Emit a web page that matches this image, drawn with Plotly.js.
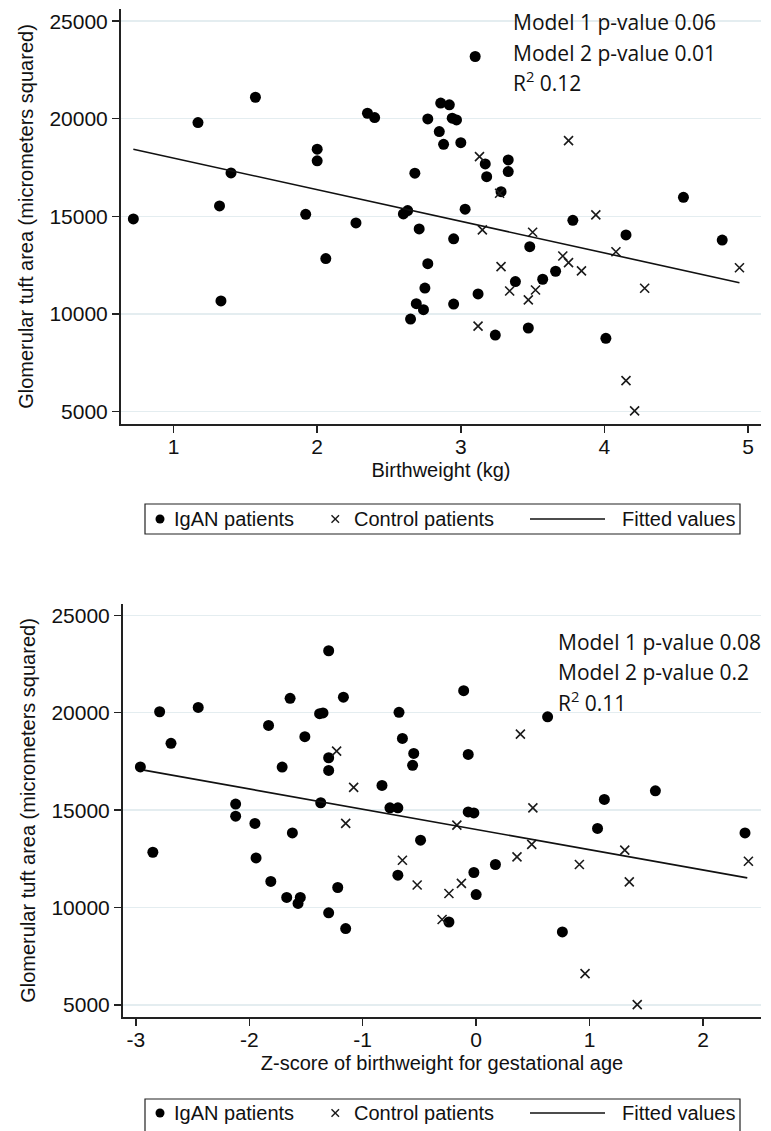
<!DOCTYPE html>
<html>
<head>
<meta charset="utf-8">
<script src="https://cdn.plot.ly/plotly-3.0.1.min.js"></script>
<style>
  html, body { margin: 0; padding: 0; background: #ffffff; }
  #top { width: 771px; height: 565px; }
  #bottom { width: 771px; height: 566px; }
</style>
</head>
<body>
<div id="top"></div>
<div id="bottom"></div>
<script>
// ---------------- DATA ----------------
// Panel A: Birthweight (kg) vs glomerular tuft area
const bwIganX = [0.72, 1.17, 1.33, 1.32, 1.40, 1.57, 1.92, 2.00, 2.00, 2.06, 2.27, 2.35, 2.40, 2.60, 2.63, 2.65, 2.68, 2.69, 2.71, 2.74, 2.75, 2.77, 2.77, 2.85, 2.86, 2.88, 2.92, 2.94, 2.95, 2.95, 2.97, 3.00, 3.03, 3.10, 3.12, 3.17, 3.18, 3.24, 3.28, 3.33, 3.33, 3.38, 3.47, 3.48, 3.57, 3.66, 3.78, 4.01, 4.15, 4.55, 4.82];
const bwIganY = [14860, 19800, 10660, 15530, 17220, 21100, 15100, 18440, 17840, 12830, 14660, 20280, 20060, 15120, 15290, 9730, 17210, 10520, 14350, 10210, 11320, 12570, 19990, 19340, 20800, 18690, 20710, 20030, 13840, 10500, 19940, 18770, 15360, 23190, 11020, 17680, 17030, 8910, 16260, 17890, 17290, 11650, 9270, 13440, 11770, 12180, 14790, 8740, 14040, 15970, 13780];
const bwCtrlX = [3.13, 3.75, 3.27, 3.94, 3.15, 3.50, 4.08, 4.94, 3.28, 3.71, 3.75, 3.84, 3.34, 3.52, 3.47, 4.28, 3.12, 4.15, 4.21];
const bwCtrlY = [18060, 18880, 16180, 15070, 14300, 14180, 13180, 12360, 12420, 12960, 12620, 12200, 11170, 11220, 10710, 11310, 9370, 6570, 5020];
const bwFitX = [0.72, 4.94];
const bwFitY = [18435, 11595];
const bwTicks = [1, 2, 3, 4, 5];
const bwStats = ["Model 1 p-value 0.06", "Model 2 p-value 0.01", "R<sup>2</sup> 0.12"];

// Panel B: Z-score of birthweight for gestational age vs glomerular tuft area
const zIganX = [-2.96, -2.85, -2.79, -2.69, -2.45, -2.12, -2.12, -1.95, -1.94, -1.83, -1.81, -1.71, -1.67, -1.64, -1.62, -1.57, -1.55, -1.51, -1.37, -1.38, -1.35, -1.30, -1.30, -1.30, -1.30, -1.22, -1.17, -1.15, -0.83, -0.76, -0.69, -0.69, -0.68, -0.65, -0.56, -0.55, -0.49, -0.24, -0.11, -0.07, -0.07, -0.02, -0.02, 0.00, 0.17, 0.63, 0.76, 1.07, 1.13, 1.58, 2.37];
const zIganY = [17220, 12840, 20050, 18430, 20270, 15310, 14690, 14320, 12550, 19350, 11340, 17210, 10520, 20740, 13830, 10210, 10520, 18770, 15380, 19950, 19990, 17690, 9730, 23180, 17040, 11030, 20800, 8920, 16270, 15120, 15120, 11660, 20020, 18680, 17300, 17910, 13460, 9260, 21130, 17860, 14910, 14860, 11800, 10670, 12210, 19790, 8750, 14060, 15550, 15990, 13830];
const zCtrlX = [-1.23, -1.08, -1.15, -0.65, -0.52, -0.17, -0.24, -0.13, -0.30, 0.36, 0.49, 0.91, 1.31, 1.35, 2.40, 0.96, 1.42, 0.39, 0.50];
const zCtrlY = [18030, 16170, 14320, 12430, 11160, 14230, 10720, 11240, 9390, 12600, 13240, 12210, 12950, 11320, 12380, 6610, 5020, 18900, 15120];
const zFitX = [-2.93, 2.39];
const zFitY = [17054, 11523];
const zTicks = [-3, -2, -1, 0, 1, 2];
const zStats = ["Model 1 p-value 0.08", "Model 2 p-value 0.2", "R<sup>2</sup> 0.11"];

const yTicks = [5000, 10000, 15000, 20000, 25000];
const legendLabels = ["IgAN patients", "Control patients", "Fitted values"];
const yTitle = "Glomerular tuft area (micrometers squared)";

// ---------------- STYLE ----------------
const W = 771;
const SANS = "'Liberation Sans', Arial, Helvetica, sans-serif";
const TICK_FONT = { family: SANS, size: 21, color: "#111111" };
const TITLE_FONT = { family: SANS, size: 20, color: "#111111" };
const LEG_FONT = { family: SANS, size: 20, color: "#111111" };
const NOTE_FONT = { family: "'Open Sans', 'Noto Sans', sans-serif", size: 21, color: "#111111" };
const GRID = "#e4edf0";

function buildPanel(divId, H, m, cfg) {
  const pw = W - m.l - m.r, ph = H - m.t - m.b;
  const pX = x => (x - m.l) / pw;
  const pY = y => (H - m.b - y) / ph;

  const traces = [
    { x: cfg.iganX, y: cfg.iganY, type: "scatter", mode: "markers", name: legendLabels[0],
      marker: { symbol: "circle", size: 11, color: "#000000" }, cliponaxis: false, showlegend: false },
    { x: cfg.ctrlX, y: cfg.ctrlY, type: "scatter", mode: "markers", name: legendLabels[1],
      marker: { symbol: "x-thin-open", size: 9, color: "#1a1a1a", line: { color: "#1a1a1a", width: 1.6 } }, cliponaxis: false, showlegend: false },
    { x: cfg.fitX, y: cfg.fitY, type: "scatter", mode: "lines", name: legendLabels[2],
      line: { color: "#111111", width: 1.6 }, showlegend: false }
  ];

  const shapes = [];
  const annotations = [];
  cfg.stats.forEach((t, i) => {
    annotations.push({ xref: "paper", yref: "paper", x: pX(cfg.statsX), y: pY(cfg.statsY[i]),
      xanchor: "left", yanchor: "middle", text: t, showarrow: false, font: NOTE_FONT, align: "left" });
  });
  const L = cfg.leg;
  shapes.push({ type: "rect", xref: "paper", yref: "paper", x0: pX(145), x1: pX(740), y0: pY(L.top), y1: pY(L.bottom),
    line: { color: "#222222", width: 1.2 }, fillcolor: "rgba(0,0,0,0)" });
  shapes.push({ type: "circle", xref: "paper", yref: "paper", x0: pX(155.5), x1: pX(164.5), y0: pY(L.mid - 4.5), y1: pY(L.mid + 4.5),
    line: { color: "#000", width: 0 }, fillcolor: "#000000" });
  shapes.push({ type: "line", xref: "paper", yref: "paper", x0: pX(331.5), x1: pX(339), y0: pY(L.mid - 3.8), y1: pY(L.mid + 3.8), line: { color: "#1a1a1a", width: 1.4 } });
  shapes.push({ type: "line", xref: "paper", yref: "paper", x0: pX(331.5), x1: pX(339), y0: pY(L.mid + 3.8), y1: pY(L.mid - 3.8), line: { color: "#1a1a1a", width: 1.4 } });
  shapes.push({ type: "line", xref: "paper", yref: "paper", x0: pX(530), x1: pX(605), y0: pY(L.mid), y1: pY(L.mid), line: { color: "#111111", width: 1.6 } });
  [[172, legendLabels[0]], [352, legendLabels[1]], [620, legendLabels[2]]].forEach(([x, t]) => {
    annotations.push({ xref: "paper", yref: "paper", x: pX(x), y: pY(L.mid), xanchor: "left", yanchor: "middle",
      text: t, showarrow: false, font: LEG_FONT });
  });

  const layout = {
    width: W, height: H,
    margin: m,
    paper_bgcolor: "#ffffff", plot_bgcolor: "#ffffff",
    showlegend: false,
    xaxis: {
      range: cfg.xRange, tickvals: cfg.xTicks, ticktext: cfg.xTicks.map(String),
      showgrid: false, zeroline: false, showline: true, linecolor: "#222222", linewidth: 2,
      ticks: "outside", ticklen: 7, tickwidth: 1.5, tickcolor: "#222222", ticklabelstandoff: -4,
      tickfont: TICK_FONT, title: { text: cfg.xTitle, font: TITLE_FONT, standoff: 6 }
    },
    yaxis: {
      range: cfg.yRange, tickvals: yTicks, ticktext: yTicks.map(String),
      showgrid: true, gridcolor: GRID, gridwidth: 1.5, zeroline: false, showline: true, linecolor: "#222222", linewidth: 2,
      ticks: "outside", ticklen: 7, tickwidth: 1.5, tickcolor: "#222222",
      tickfont: TICK_FONT, title: { text: yTitle, font: TITLE_FONT, standoff: 10 }
    },
    shapes: shapes,
    annotations: annotations
  };
  Plotly.newPlot(divId, traces, layout, { staticPlot: true, displayModeBar: false });
}

buildPanel("top", 565, { l: 121, r: 10, t: 9, b: 141 }, {
  iganX: bwIganX, iganY: bwIganY, ctrlX: bwCtrlX, ctrlY: bwCtrlY, fitX: bwFitX, fitY: bwFitY,
  xRange: [0.634, 5.09], yRange: [4349, 25625], xTicks: bwTicks, xTitle: "Birthweight (kg)",
  stats: bwStats, statsX: 511, statsY: [22, 53, 81],
  leg: { top: 504, bottom: 534, mid: 519 }
});

buildPanel("bottom", 566, { l: 123, r: 10, t: 39, b: 114 }, {
  iganX: zIganX, iganY: zIganY, ctrlX: zCtrlX, ctrlY: zCtrlY, fitX: zFitX, fitY: zFitY,
  xRange: [-3.113, 2.511], yRange: [4384, 25580], xTicks: zTicks, xTitle: "Z-score of birthweight for gestational age",
  stats: zStats, statsX: 556, statsY: [77, 107, 136],
  leg: { top: 534, bottom: 572, mid: 548 }
});
</script>
</body>
</html>
